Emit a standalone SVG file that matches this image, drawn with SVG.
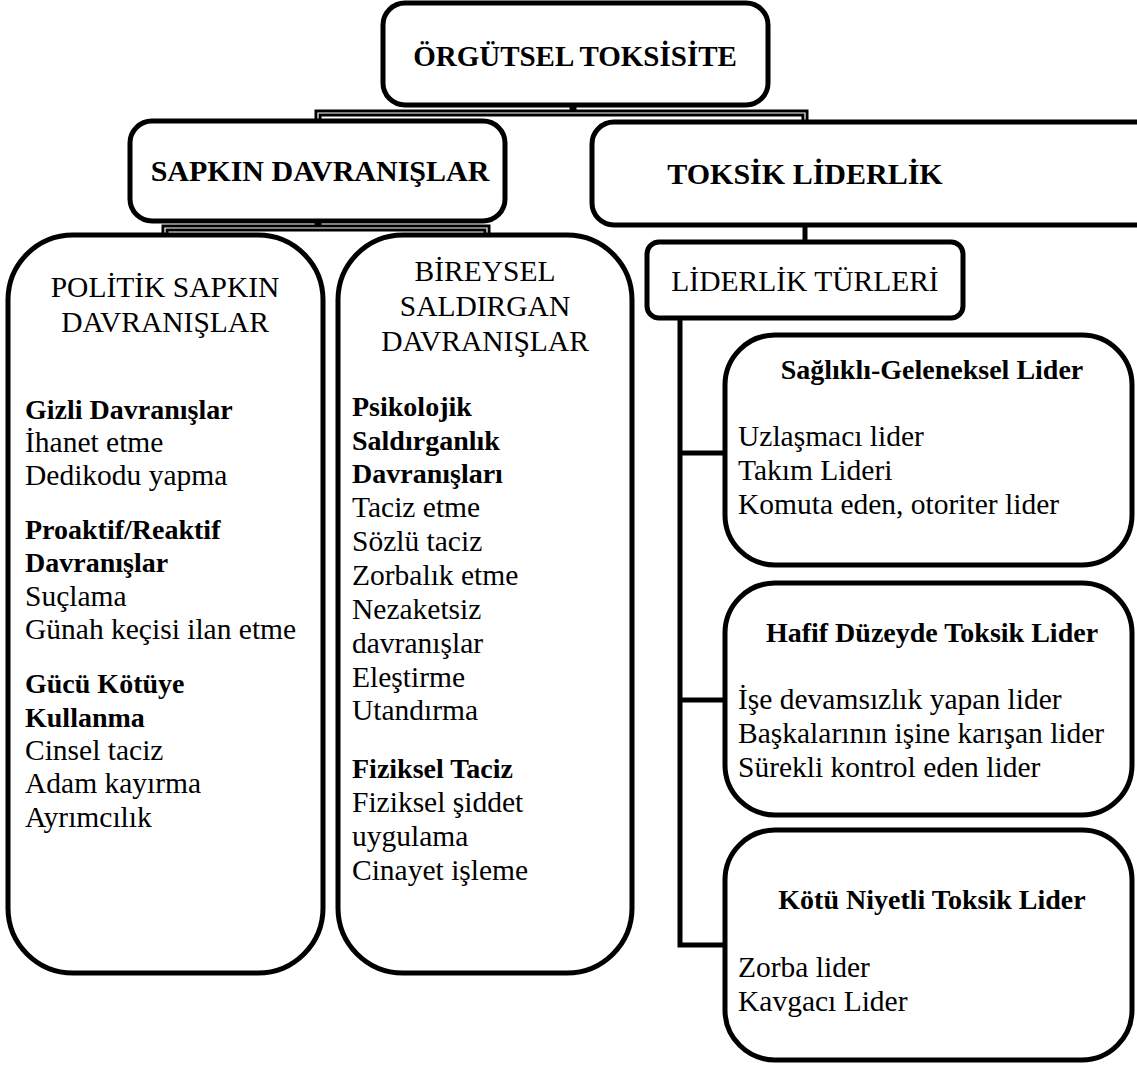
<svg xmlns="http://www.w3.org/2000/svg" width="1137" height="1066" viewBox="0 0 1137 1066">
<style>
.box{fill:#fff;stroke:#000;stroke-width:5}
.t{font-family:"Liberation Serif","Times New Roman",serif;font-size:29.5px;fill:#000}
.b{font-weight:bold;font-size:28px}
.h{font-weight:bold;font-size:30px}
.c{text-anchor:middle}
.co{fill:none;stroke:#000;stroke-width:7;stroke-linejoin:miter}
.ci{fill:none;stroke:#fff;stroke-width:1.2}
.cs{fill:none;stroke:#000;stroke-width:5}
</style>
<rect width="1137" height="1066" fill="#fff"/>
<g id="connectors">
<path class="co" d="M573,104 V113 M318,121 V113 H805 V122"/>
<path class="ci" d="M318,121 V113 H805 V122"/>
<path class="co" d="M318,221 V228 M165,235 V228 H487 V235"/>
<path class="ci" d="M165,235 V228 H487 V235"/>
<path class="cs" d="M805,225 V242"/>
<path class="cs" d="M680,318 V945 H725 M680,453 H725 M680,700 H725"/>
</g>
<g id="n-root">
<rect class="box" x="383" y="3" width="385" height="102" rx="22"/>
<text class="t h c" x="575" y="66" style="font-size:29px">ÖRGÜTSEL TOKSİSİTE</text>
</g>
<g id="n-sapkin">
<rect class="box" x="130" y="121" width="375" height="100" rx="22"/>
<text class="t h c" x="320" y="181">SAPKIN DAVRANIŞLAR</text>
</g>
<g id="n-toksik">
<rect class="box" x="592" y="122" width="580" height="103" rx="22"/>
<text class="t h c" x="805" y="184">TOKSİK LİDERLİK</text>
</g>
<g id="n-politik">
<rect class="box" x="8" y="235" width="315" height="738" rx="65"/>
<text class="t c" x="165" y="297">POLİTİK SAPKIN</text>
<text class="t c" x="165" y="332">DAVRANIŞLAR</text>
<text class="t b" x="25" y="419">Gizli Davranışlar</text>
<text class="t" x="25" y="452">İhanet etme</text>
<text class="t" x="25" y="485">Dedikodu yapma</text>
<text class="t b" x="25" y="539">Proaktif/Reaktif</text>
<text class="t b" x="25" y="572">Davranışlar</text>
<text class="t" x="25" y="606">Suçlama</text>
<text class="t" x="25" y="639">Günah keçisi ilan etme</text>
<text class="t b" x="25" y="693">Gücü Kötüye</text>
<text class="t b" x="25" y="727">Kullanma</text>
<text class="t" x="25" y="760">Cinsel taciz</text>
<text class="t" x="25" y="793">Adam kayırma</text>
<text class="t" x="25" y="827">Ayrımcılık</text>
</g>
<g id="n-bireysel">
<rect class="box" x="338" y="235" width="294" height="738" rx="65"/>
<text class="t c" x="485" y="281">BİREYSEL</text>
<text class="t c" x="485" y="316">SALDIRGAN</text>
<text class="t c" x="485" y="351">DAVRANIŞLAR</text>
<text class="t b" x="352" y="416">Psikolojik</text>
<text class="t b" x="352" y="450">Saldırganlık</text>
<text class="t b" x="352" y="483">Davranışları</text>
<text class="t" x="352" y="517">Taciz etme</text>
<text class="t" x="352" y="551">Sözlü taciz</text>
<text class="t" x="352" y="585">Zorbalık etme</text>
<text class="t" x="352" y="619">Nezaketsiz</text>
<text class="t" x="352" y="653">davranışlar</text>
<text class="t" x="352" y="687">Eleştirme</text>
<text class="t" x="352" y="720">Utandırma</text>
<text class="t b" x="352" y="778">Fiziksel Taciz</text>
<text class="t" x="352" y="812">Fiziksel şiddet</text>
<text class="t" x="352" y="846">uygulama</text>
<text class="t" x="352" y="880">Cinayet işleme</text>
</g>
<g id="n-liderlik">
<rect class="box" x="647" y="242" width="316" height="76" rx="12"/>
<text class="t c" x="805" y="291">LİDERLİK TÜRLERİ</text>
</g>
<g id="n-saglikli">
<rect class="box" x="725" y="335" width="407" height="230" rx="50"/>
<text class="t b c" x="932" y="379">Sağlıklı-Geleneksel Lider</text>
<text class="t" x="738" y="446">Uzlaşmacı lider</text>
<text class="t" x="738" y="480">Takım Lideri</text>
<text class="t" x="738" y="514">Komuta eden, otoriter lider</text>
</g>
<g id="n-hafif">
<rect class="box" x="725" y="583" width="407" height="232" rx="50"/>
<text class="t b c" x="932" y="642">Hafif Düzeyde Toksik Lider</text>
<text class="t" x="738" y="709">İşe devamsızlık yapan lider</text>
<text class="t" x="738" y="743">Başkalarının işine karışan lider</text>
<text class="t" x="738" y="777">Sürekli kontrol eden lider</text>
</g>
<g id="n-kotu">
<rect class="box" x="725" y="830" width="407" height="230" rx="50"/>
<text class="t b c" x="932" y="909">Kötü Niyetli Toksik Lider</text>
<text class="t" x="738" y="977">Zorba lider</text>
<text class="t" x="738" y="1011">Kavgacı Lider</text>
</g>
</svg>
